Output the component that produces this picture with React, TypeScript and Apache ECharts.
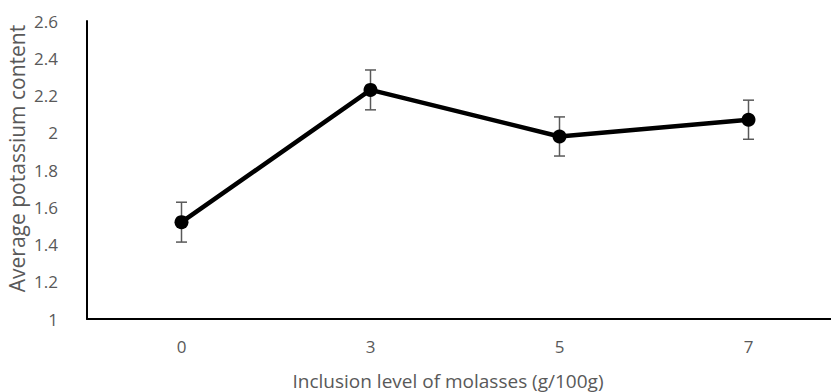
import React, { useEffect, useRef } from "react";
import * as echarts from "echarts";

const categories = ["0", "3", "5", "7"];
const values = [1.52, 2.23, 1.98, 2.07];
const errors = [0.107, 0.107, 0.105, 0.105];
const yTicks = { min: 1, max: 2.6, interval: 0.2 };

export default function App() {
  const ref = useRef<HTMLDivElement>(null);
  useEffect(() => {
    if (!ref.current) return;
    document.body.style.margin = "0";
    const chart = echarts.init(ref.current, undefined, { renderer: "svg" });
    const font = "'Open Sans', 'Liberation Sans', sans-serif";
    const errData = values.map((v, i) => [i, v - errors[i], v + errors[i]]);
    chart.setOption({
      animation: false,
      backgroundColor: "#ffffff",
      grid: {
        left: 87,
        right: -12,
        top: 21,
        bottom: 73,
        containLabel: false,
        outerBoundsMode: "none",
      },
      xAxis: {
        type: "category",
        data: categories,
        boundaryGap: true,
        name: "Inclusion level of molasses (g/100g)",
        nameLocation: "middle",
        nameGap: 52,
        nameMoveOverlap: false,
        nameTextStyle: {
          color: "#595959",
          fontSize: 19,
          fontFamily: font,
          padding: [0, 34, 0, 0],
        },
        axisLine: { lineStyle: { color: "#000", width: 2 } },
        axisTick: { show: false },
        axisLabel: { color: "#595959", fontSize: 17, fontFamily: font, margin: 19 },
        splitLine: { show: false },
      },
      yAxis: {
        type: "value",
        min: yTicks.min,
        max: yTicks.max,
        interval: yTicks.interval,
        name: "Average potassium content",
        nameLocation: "middle",
        nameGap: 60,
        nameMoveOverlap: false,
        nameTextStyle: {
          color: "#595959",
          fontSize: 21,
          fontFamily: font,
          padding: [0, 0, 0, 23],
        },
        axisLine: { show: true, lineStyle: { color: "#000", width: 2 } },
        axisTick: { show: false },
        axisLabel: {
          color: "#595959",
          fontSize: 17,
          fontFamily: font,
          margin: 29,
          formatter: (v: number) => String(Math.round(v * 10) / 10),
        },
        splitLine: { show: false },
      },
      series: [
        {
          type: "custom",
          data: errData,
          z: 1,
          renderItem: (params: any, api: any) => {
            const x = api.value(0);
            const lo = api.coord([x, api.value(1)]);
            const hi = api.coord([x, api.value(2)]);
            const half = 5.5;
            const style = { stroke: "#595959", lineWidth: 1.5 };
            return {
              type: "group",
              children: [
                { type: "line", shape: { x1: lo[0], y1: lo[1], x2: hi[0], y2: hi[1] }, style },
                { type: "line", shape: { x1: lo[0] - half, y1: lo[1], x2: lo[0] + half, y2: lo[1] }, style },
                { type: "line", shape: { x1: hi[0] - half, y1: hi[1], x2: hi[0] + half, y2: hi[1] }, style },
              ],
            };
          },
        },
        {
          type: "line",
          data: values,
          z: 3,
          symbol: "circle",
          symbolSize: 14,
          lineStyle: { color: "#000", width: 4.5 },
          itemStyle: { color: "#000" },
        },
      ],
    });
    return () => chart.dispose();
  }, []);
  return <div ref={ref} style={{ width: 831, height: 392 }} />;
}
